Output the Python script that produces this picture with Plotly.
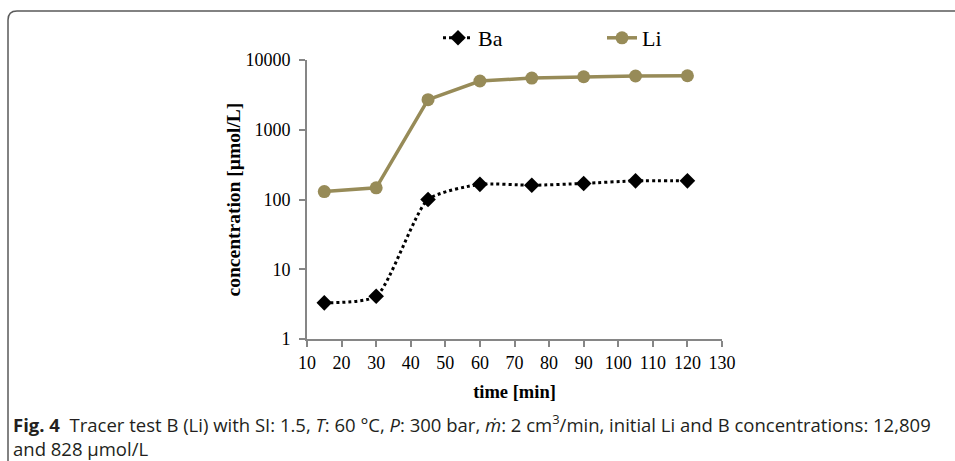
import plotly.graph_objects as go

time_min = [15, 30, 45, 60, 75, 90, 105, 120]
ba = [3.3, 4.1, 100, 165, 160, 170, 185, 185]
li = [130, 147, 2700, 5000, 5500, 5750, 5900, 5950]
x_ticks = [10, 20, 30, 40, 50, 60, 70, 80, 90, 100, 110, 120, 130]
y_ticks = [1, 10, 100, 1000, 10000]

W, H = 955, 461
L, R, T, B = 307, 722, 60, 339

def px(x):
    return (x - L) / (R - L)

def py(y):
    return (B - y) / (B - T)

fig = go.Figure()
fig.add_trace(go.Scatter(
    x=time_min, y=ba, name="Ba", mode="lines+markers", legend="legend",
    line=dict(color="black", width=3, dash="dot", shape="spline", smoothing=0.6),
    marker=dict(symbol="diamond", size=12, color="black"),
))
fig.add_trace(go.Scatter(
    x=time_min, y=li, name="Li", mode="lines+markers", legend="legend2",
    line=dict(color="#978B58", width=3.5),
    marker=dict(symbol="circle", size=13, color="#978B58"),
))

tick_font = dict(family="Liberation Serif", size=18, color="black")
fig.update_xaxes(
    range=[10, 130], tickvals=x_ticks, ticktext=[str(v) for v in x_ticks],
    showgrid=False, zeroline=False, showline=True, linecolor="#868686", linewidth=2,
    ticks="outside", ticklen=6, tickcolor="#868686", tickwidth=2,
    tickfont=tick_font, automargin=False,
    title=dict(text="<b>time [min]</b>",
               font=dict(family="Liberation Serif", size=18.5, color="black"), standoff=13),
)
fig.update_yaxes(
    type="log", range=[0, 4], tickvals=y_ticks, ticktext=[str(v) for v in y_ticks],
    showgrid=False, zeroline=False, showline=True, linecolor="#868686", linewidth=2,
    ticks="outside", ticklen=6, tickcolor="#868686", tickwidth=2,
    tickfont=tick_font, automargin=False, ticklabelstandoff=5,
    title=dict(text="<b>concentration [µmol/L]</b>",
               font=dict(family="Liberation Serif", size=19.5, color="black"), standoff=0),
)

# border box with rounded top-left corner
bx, by, r = 8, 11, 9
path = (f"M {px(bx)},{py(H + 5)} L {px(bx)},{py(by + r)} "
        f"Q {px(bx)},{py(by)} {px(bx + r)},{py(by)} L {px(W + 5)},{py(by)}")
fig.add_shape(type="path", path=path, xref="paper", yref="paper",
              line=dict(color="#5a5a5a", width=1.5))

cap_font = dict(family="Open Sans", size=18.5, color="#231f20")
caption1 = ("<b>Fig. 4</b>  Tracer test B (Li) with SI: 1.5, <i>T</i>: 60 °C, <i>P</i>: 300 bar, "
            "<i>ṁ</i>: 2 cm<sup>3</sup>/min, initial Li and B concentrations: 12,809")
caption2 = "and 828 µmol/L"
fig.add_annotation(text=caption1, xref="paper", yref="paper", x=px(11), y=py(424),
                   xanchor="left", yanchor="middle", align="left", showarrow=False,
                   font=cap_font)
fig.add_annotation(text=caption2, xref="paper", yref="paper", x=px(11), y=py(448),
                   xanchor="left", yanchor="middle", align="left", showarrow=False,
                   font=cap_font)

leg_common = dict(orientation="h", yanchor="middle", xanchor="left",
                  font=dict(family="Liberation Serif", size=22, color="black"),
                  bgcolor="rgba(0,0,0,0)")
fig.update_layout(
    width=W, height=H,
    margin=dict(l=L, r=W - R, t=T, b=H - B, autoexpand=False),
    paper_bgcolor="white", plot_bgcolor="white",
    showlegend=True,
    legend=dict(x=px(438), y=py(38), **leg_common),
    legend2=dict(x=px(602), y=py(38), **leg_common),
)

fig.write_html("out.html")
